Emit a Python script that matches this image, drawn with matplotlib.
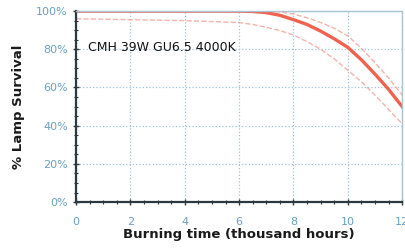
import matplotlib
matplotlib.use('Agg')
import matplotlib.pyplot as plt
from matplotlib.ticker import MultipleLocator, PercentFormatter

# burning time (thousand hours) and survival (%)
hours = [0, 2, 4, 6, 6.5, 7, 7.5, 8, 8.5, 9, 9.5, 10, 10.5, 11, 11.5, 12]
survival = [100, 100, 100, 100, 99.8, 99.2, 97.8, 95.5, 93, 89.5, 85.5, 81, 74.5, 67, 59, 50]
upper = [100, 100, 100, 100, 100, 100, 99.5, 98.5, 96.5, 94, 91, 87, 80.5, 73, 65, 56]
lower = [96, 95.5, 95, 94, 93, 91.5, 89.8, 87.5, 84, 80, 75, 69, 63, 56, 48.5, 41]

fig = plt.figure(figsize=(4.05, 2.52), dpi=100)
ax = fig.add_axes([0.188, 0.198, 0.805, 0.758])

ax.plot(hours, upper, '--', color='#f4a094', lw=1.0, alpha=0.8)
ax.plot(hours, lower, '--', color='#f4a094', lw=1.0, alpha=0.8)
ax.plot(hours, survival, '-', color='#f0624f', lw=2.4)

ax.set_xlim(0, 12)
ax.set_ylim(0, 100)
ax.xaxis.set_major_locator(MultipleLocator(2))
ax.xaxis.set_minor_locator(MultipleLocator(0.5))
ax.yaxis.set_major_locator(MultipleLocator(20))
ax.yaxis.set_minor_locator(MultipleLocator(5))
ax.yaxis.set_major_formatter(PercentFormatter(decimals=0))
ax.grid(True, which='major', color='#9cc3dc', linestyle=':', lw=0.9)

tick_col = '#6a9fc2'
ax.tick_params(which='both', direction='inout', colors='#333333', labelcolor=tick_col, labelsize=8)
ax.tick_params(which='major', length=5, width=1)
ax.tick_params(which='minor', length=3, width=0.8)
ax.tick_params(axis='x', pad=8)
for s in ['left', 'bottom']:
    ax.spines[s].set_color('#2b3a40')
    ax.spines[s].set_linewidth(1.6)
for s in ['right', 'top']:
    ax.spines[s].set_color('#a8c4d4')
    ax.spines[s].set_linewidth(1.0)

ax.set_xlabel('Burning time (thousand hours)', fontsize=9.5, fontweight='bold', color='#1a1a1a', labelpad=1)
ax.set_ylabel('% Lamp Survival', fontsize=9.5, fontweight='bold', color='#1a1a1a', labelpad=8)
ax.text(0.035, 0.79, 'CMH 39W GU6.5 4000K', transform=ax.transAxes, fontsize=9, color='#111111')

fig.savefig('out.png', dpi=100)
